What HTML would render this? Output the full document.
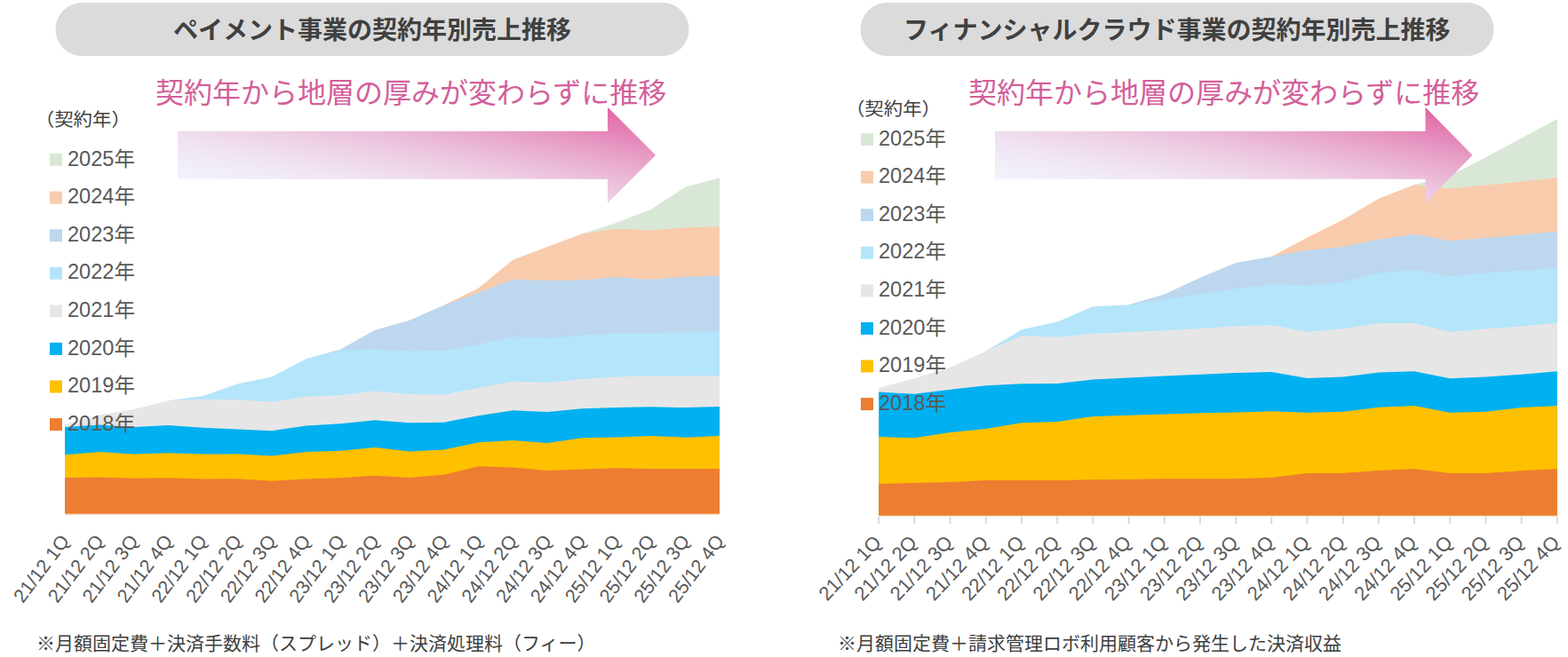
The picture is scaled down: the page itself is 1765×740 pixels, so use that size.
<!DOCTYPE html>
<html lang="ja"><head><meta charset="utf-8"><title>契約年別売上推移</title>
<style>html,body{margin:0;padding:0;background:#fff;font-family:"Liberation Sans","Noto Sans CJK JP",sans-serif}svg{display:block}svg text{font-family:"Liberation Sans","Noto Sans CJK JP",sans-serif}</style>
</head><body>
<svg role="img" aria-label="契約年別売上推移チャート" width="1765" height="740" viewBox="0 0 1765 740" shape-rendering="geometricPrecision">
<desc>ペイメント事業の契約年別売上推移 / フィナンシャルクラウド事業の契約年別売上推移 — 契約年から地層の厚みが変わらずに推移。凡例（契約年）2018年〜2025年、横軸 21/12 1Q 〜 25/12 4Q。</desc>
<defs><linearGradient id="gL" x1="0" y1="1" x2="1" y2="0"><stop offset="0.0" stop-color="#F2F6FD"/><stop offset="0.0833" stop-color="#F2F5FC"/><stop offset="0.1667" stop-color="#F1F1FA"/><stop offset="0.25" stop-color="#F1EAF6"/><stop offset="0.3333" stop-color="#F0E2F0"/><stop offset="0.4167" stop-color="#EED7EA"/><stop offset="0.5" stop-color="#EDCBE2"/><stop offset="0.5833" stop-color="#EBBCD9"/><stop offset="0.6667" stop-color="#E9ABCE"/><stop offset="0.75" stop-color="#E698C3"/><stop offset="0.8333" stop-color="#E483B6"/><stop offset="0.9167" stop-color="#E16DA7"/><stop offset="1.0" stop-color="#DE5498"/></linearGradient><linearGradient id="gR" x1="0" y1="1" x2="1" y2="0"><stop offset="0.0" stop-color="#F2F6FD"/><stop offset="0.0833" stop-color="#F2F5FC"/><stop offset="0.1667" stop-color="#F1F1FA"/><stop offset="0.25" stop-color="#F1EAF6"/><stop offset="0.3333" stop-color="#F0E2F0"/><stop offset="0.4167" stop-color="#EED7EA"/><stop offset="0.5" stop-color="#EDCBE2"/><stop offset="0.5833" stop-color="#EBBCD9"/><stop offset="0.6667" stop-color="#E9ABCE"/><stop offset="0.75" stop-color="#E698C3"/><stop offset="0.8333" stop-color="#E483B6"/><stop offset="0.9167" stop-color="#E16DA7"/><stop offset="1.0" stop-color="#DE5498"/></linearGradient></defs>
<rect width="1765" height="740" fill="#fff"/>
<g id="left">
<rect x="62.5" y="3" width="713" height="60" rx="30.0" fill="#DBDBDB"/>
<text x="195" y="43.5" font-size="28" font-weight="bold" fill="#404040">ペイメント事業の契約年別売上推移</text>
<path d="M654.9 578.7L654.9 263.5L693.6 250.9L732.4 236.0L771.2 210.8L810.0 200.3L810.0 578.7Z" fill="#D9E8D6"/>
<path d="M499.7 578.7L499.7 343.8L538.5 324.5L577.3 292.7L616.1 277.9L654.9 263.5L693.6 257.5L732.4 259.5L771.2 256.2L810.0 255.4L810.0 578.7Z" fill="#F8CBAD"/>
<path d="M344.5 578.7L344.5 404.2L383.3 393.6L422.1 371.8L460.9 360.8L499.7 343.8L538.5 329.5L577.3 314.7L616.1 316.1L654.9 315.4L693.6 312.2L732.4 314.7L771.2 312.0L810.0 310.2L810.0 578.7Z" fill="#BDD7EE"/>
<path d="M189.4 578.7L189.4 451.3L228.2 446.1L266.9 432.6L305.7 424.4L344.5 404.2L383.3 394.5L422.1 393.3L460.9 395.4L499.7 394.9L538.5 388.0L577.3 379.0L616.1 381.2L654.9 377.8L693.6 374.9L732.4 375.6L771.2 374.0L810.0 372.8L810.0 578.7Z" fill="#B4E5FA"/>
<path d="M73.0 578.7L73.0 478.0L111.8 467.6L150.6 461.1L189.4 451.3L228.2 449.8L266.9 450.1L305.7 452.8L344.5 446.7L383.3 444.9L422.1 440.6L460.9 444.1L499.7 444.4L538.5 437.1L577.3 429.6L616.1 431.0L654.9 426.9L693.6 424.4L732.4 423.3L771.2 423.3L810.0 423.0L810.0 578.7Z" fill="#E7E6E6"/>
<path d="M73.0 578.7L73.0 480.9L111.8 478.5L150.6 481.0L189.4 479.1L228.2 481.8L266.9 483.4L305.7 485.2L344.5 479.5L383.3 477.3L422.1 473.3L460.9 476.2L499.7 475.7L538.5 468.2L577.3 462.3L616.1 463.9L654.9 460.3L693.6 459.1L732.4 458.2L771.2 459.1L810.0 458.0L810.0 578.7Z" fill="#00B0F0"/>
<path d="M73.0 578.7L73.0 512.2L111.8 509.1L150.6 511.6L189.4 510.2L228.2 511.6L266.9 511.3L305.7 513.6L344.5 509.1L383.3 507.7L422.1 504.1L460.9 508.6L499.7 506.4L538.5 498.2L577.3 495.9L616.1 498.9L654.9 493.2L693.6 492.5L732.4 490.9L771.2 492.7L810.0 490.9L810.0 578.7Z" fill="#FFC000"/>
<path d="M73.0 578.7L73.0 538.1L111.8 537.4L150.6 538.8L189.4 538.3L228.2 539.6L266.9 539.2L305.7 541.7L344.5 539.4L383.3 538.3L422.1 535.7L460.9 537.9L499.7 534.7L538.5 525.2L577.3 526.6L616.1 530.0L654.9 528.4L693.6 527.2L732.4 527.9L771.2 527.9L810.0 527.9L810.0 578.7Z" fill="#ED7D31"/>
<rect x="73" y="578.7" width="737.0" height="1.6" fill="#F8DDCC"/>
<path d="M200 147.7H684V120.69999999999999L738 174.7L684 228.7V201.7H200Z" fill="url(#gL)"/>
<text x="175" y="116" font-size="32" fill="#D35F9B">契約年から地層の厚みが変わらずに推移</text>
<text transform="translate(39.80 142.20) scale(1.045 1)" font-size="20.5" fill="#404040">（契約年）</text>
<rect x="56" y="173.00" width="14" height="14" fill="#D9E8D6"/>
<text transform="translate(76.00 186.70) scale(1.025 1)" font-size="23" fill="#595959">2025年</text>
<rect x="56" y="215.58" width="14" height="14" fill="#F8CBAD"/>
<text transform="translate(76.00 229.28) scale(1.025 1)" font-size="23" fill="#595959">2024年</text>
<rect x="56" y="258.16" width="14" height="14" fill="#BDD7EE"/>
<text transform="translate(76.00 271.86) scale(1.025 1)" font-size="23" fill="#595959">2023年</text>
<rect x="56" y="300.74" width="14" height="14" fill="#B4E5FA"/>
<text transform="translate(76.00 314.44) scale(1.025 1)" font-size="23" fill="#595959">2022年</text>
<rect x="56" y="343.32" width="14" height="14" fill="#E7E6E6"/>
<text transform="translate(76.00 357.02) scale(1.025 1)" font-size="23" fill="#595959">2021年</text>
<rect x="56" y="385.90" width="14" height="14" fill="#00B0F0"/>
<text transform="translate(76.00 399.60) scale(1.025 1)" font-size="23" fill="#595959">2020年</text>
<rect x="56" y="428.48" width="14" height="14" fill="#FFC000"/>
<text transform="translate(76.00 442.18) scale(1.025 1)" font-size="23" fill="#595959">2019年</text>
<rect x="56" y="471.06" width="14" height="14" fill="#ED7D31"/>
<text transform="translate(76.00 484.76) scale(1.025 1)" font-size="23" fill="#595959">2018年</text>
<text transform="translate(79.00 609.50) rotate(-53)" text-anchor="end" font-size="21.5" fill="#595959">21/12 1Q</text>
<text transform="translate(117.79 609.50) rotate(-53)" text-anchor="end" font-size="21.5" fill="#595959">21/12 2Q</text>
<text transform="translate(156.58 609.50) rotate(-53)" text-anchor="end" font-size="21.5" fill="#595959">21/12 3Q</text>
<text transform="translate(195.37 609.50) rotate(-53)" text-anchor="end" font-size="21.5" fill="#595959">21/12 4Q</text>
<text transform="translate(234.16 609.50) rotate(-53)" text-anchor="end" font-size="21.5" fill="#595959">22/12 1Q</text>
<text transform="translate(272.95 609.50) rotate(-53)" text-anchor="end" font-size="21.5" fill="#595959">22/12 2Q</text>
<text transform="translate(311.74 609.50) rotate(-53)" text-anchor="end" font-size="21.5" fill="#595959">22/12 3Q</text>
<text transform="translate(350.53 609.50) rotate(-53)" text-anchor="end" font-size="21.5" fill="#595959">22/12 4Q</text>
<text transform="translate(389.32 609.50) rotate(-53)" text-anchor="end" font-size="21.5" fill="#595959">23/12 1Q</text>
<text transform="translate(428.11 609.50) rotate(-53)" text-anchor="end" font-size="21.5" fill="#595959">23/12 2Q</text>
<text transform="translate(466.90 609.50) rotate(-53)" text-anchor="end" font-size="21.5" fill="#595959">23/12 3Q</text>
<text transform="translate(505.69 609.50) rotate(-53)" text-anchor="end" font-size="21.5" fill="#595959">23/12 4Q</text>
<text transform="translate(544.48 609.50) rotate(-53)" text-anchor="end" font-size="21.5" fill="#595959">24/12 1Q</text>
<text transform="translate(583.27 609.50) rotate(-53)" text-anchor="end" font-size="21.5" fill="#595959">24/12 2Q</text>
<text transform="translate(622.06 609.50) rotate(-53)" text-anchor="end" font-size="21.5" fill="#595959">24/12 3Q</text>
<text transform="translate(660.85 609.50) rotate(-53)" text-anchor="end" font-size="21.5" fill="#595959">24/12 4Q</text>
<text transform="translate(699.64 609.50) rotate(-53)" text-anchor="end" font-size="21.5" fill="#595959">25/12 1Q</text>
<text transform="translate(738.43 609.50) rotate(-53)" text-anchor="end" font-size="21.5" fill="#595959">25/12 2Q</text>
<text transform="translate(777.22 609.50) rotate(-53)" text-anchor="end" font-size="21.5" fill="#595959">25/12 3Q</text>
<text transform="translate(816.01 609.50) rotate(-53)" text-anchor="end" font-size="21.5" fill="#595959">25/12 4Q</text>
<text x="41" y="732" font-size="21" fill="#3E3E3E">※月額固定費＋決済手数料（スプレッド）＋決済処理料（フィー）</text>
</g>
<g id="right">
<rect x="968.5" y="3" width="713" height="60" rx="30.0" fill="#DBDBDB"/>
<text x="1017" y="43.5" font-size="28" font-weight="bold" fill="#404040">フィナンシャルクラウド事業の契約年別売上推移</text>
<path d="M1592.0 580.8L1592.0 207.9L1632.2 197.6L1672.4 177.2L1712.6 155.6L1752.8 134.1L1752.8 580.8Z" fill="#D9E8D6"/>
<path d="M1431.3 580.8L1431.3 288.9L1471.5 267.6L1511.7 247.6L1551.9 223.8L1592.0 207.9L1632.2 212.4L1672.4 208.5L1712.6 204.5L1752.8 199.9L1752.8 580.8Z" fill="#F8CBAD"/>
<path d="M1270.5 580.8L1270.5 343.3L1310.7 331.5L1350.9 312.7L1391.1 296.1L1431.3 288.9L1471.5 281.7L1511.7 278.0L1551.9 269.5L1592.0 263.9L1632.2 271.3L1672.4 268.0L1712.6 264.6L1752.8 260.5L1752.8 580.8Z" fill="#BDD7EE"/>
<path d="M1109.8 580.8L1109.8 395.6L1150.0 371.3L1190.2 362.6L1230.3 345.2L1270.5 343.3L1310.7 337.2L1350.9 331.3L1391.1 325.2L1431.3 319.9L1471.5 321.8L1511.7 317.7L1551.9 307.5L1592.0 304.1L1632.2 311.3L1672.4 307.5L1712.6 304.7L1752.8 301.8L1752.8 580.8Z" fill="#B4E5FA"/>
<path d="M989.2 580.8L989.2 437.1L1029.4 426.2L1069.6 413.7L1109.8 395.6L1150.0 378.1L1190.2 379.7L1230.3 375.8L1270.5 374.0L1310.7 372.2L1350.9 369.9L1391.1 367.2L1431.3 366.3L1471.5 373.7L1511.7 370.3L1551.9 364.2L1592.0 364.2L1632.2 373.7L1672.4 370.6L1712.6 367.6L1752.8 363.8L1752.8 580.8Z" fill="#E7E6E6"/>
<path d="M989.2 580.8L989.2 441.5L1029.4 443.8L1069.6 438.7L1109.8 434.2L1150.0 432.3L1190.2 431.9L1230.3 427.4L1270.5 425.5L1310.7 423.5L1350.9 421.7L1391.1 420.1L1431.3 418.9L1471.5 426.1L1511.7 424.6L1551.9 419.4L1592.0 418.3L1632.2 426.2L1672.4 424.4L1712.6 421.7L1752.8 418.3L1752.8 580.8Z" fill="#00B0F0"/>
<path d="M989.2 580.8L989.2 492.1L1029.4 493.2L1069.6 487.1L1109.8 483.0L1150.0 476.2L1190.2 475.0L1230.3 468.9L1270.5 467.8L1310.7 466.4L1350.9 465.3L1391.1 464.4L1431.3 463.2L1471.5 464.8L1511.7 463.7L1551.9 458.7L1592.0 456.9L1632.2 464.8L1672.4 463.7L1712.6 459.1L1752.8 456.9L1752.8 580.8Z" fill="#FFC000"/>
<path d="M989.2 580.8L989.2 544.9L1029.4 544.0L1069.6 543.1L1109.8 541.1L1150.0 541.1L1190.2 541.1L1230.3 540.2L1270.5 540.0L1310.7 539.3L1350.9 539.3L1391.1 539.3L1431.3 537.9L1471.5 532.9L1511.7 532.9L1551.9 530.0L1592.0 527.9L1632.2 532.9L1672.4 532.9L1712.6 530.2L1752.8 527.9L1752.8 580.8Z" fill="#ED7D31"/>
<rect x="988.30" y="582" width="1.8" height="8" fill="#D3D7DC"/>
<rect x="1028.49" y="582" width="1.8" height="8" fill="#D3D7DC"/>
<rect x="1068.68" y="582" width="1.8" height="8" fill="#D3D7DC"/>
<rect x="1108.87" y="582" width="1.8" height="8" fill="#D3D7DC"/>
<rect x="1149.06" y="582" width="1.8" height="8" fill="#D3D7DC"/>
<rect x="1189.25" y="582" width="1.8" height="8" fill="#D3D7DC"/>
<rect x="1229.44" y="582" width="1.8" height="8" fill="#D3D7DC"/>
<rect x="1269.63" y="582" width="1.8" height="8" fill="#D3D7DC"/>
<rect x="1309.82" y="582" width="1.8" height="8" fill="#D3D7DC"/>
<rect x="1350.01" y="582" width="1.8" height="8" fill="#D3D7DC"/>
<rect x="1390.20" y="582" width="1.8" height="8" fill="#D3D7DC"/>
<rect x="1430.39" y="582" width="1.8" height="8" fill="#D3D7DC"/>
<rect x="1470.58" y="582" width="1.8" height="8" fill="#D3D7DC"/>
<rect x="1510.77" y="582" width="1.8" height="8" fill="#D3D7DC"/>
<rect x="1550.96" y="582" width="1.8" height="8" fill="#D3D7DC"/>
<rect x="1591.15" y="582" width="1.8" height="8" fill="#D3D7DC"/>
<rect x="1631.34" y="582" width="1.8" height="8" fill="#D3D7DC"/>
<rect x="1671.53" y="582" width="1.8" height="8" fill="#D3D7DC"/>
<rect x="1711.72" y="582" width="1.8" height="8" fill="#D3D7DC"/>
<rect x="1751.91" y="582" width="1.8" height="8" fill="#D3D7DC"/>
<rect x="989.2" y="580.8" width="763.6" height="1.0" fill="#F8DDCC"/>
<path d="M1120 147.7H1604.5V120.69999999999999L1657.5 174.7L1604.5 228.7V201.7H1120Z" fill="url(#gR)"/>
<text x="1090" y="116" font-size="32" fill="#D35F9B">契約年から地層の厚みが変わらずに推移</text>
<text transform="translate(951.90 129.90) scale(1.045 1)" font-size="20.5" fill="#404040">（契約年）</text>
<rect x="969" y="150.00" width="14" height="14" fill="#D9E8D6"/>
<text transform="translate(989.00 163.70) scale(1.025 1)" font-size="23" fill="#595959">2025年</text>
<rect x="969" y="192.58" width="14" height="14" fill="#F8CBAD"/>
<text transform="translate(989.00 206.28) scale(1.025 1)" font-size="23" fill="#595959">2024年</text>
<rect x="969" y="235.16" width="14" height="14" fill="#BDD7EE"/>
<text transform="translate(989.00 248.86) scale(1.025 1)" font-size="23" fill="#595959">2023年</text>
<rect x="969" y="277.74" width="14" height="14" fill="#B4E5FA"/>
<text transform="translate(989.00 291.44) scale(1.025 1)" font-size="23" fill="#595959">2022年</text>
<rect x="969" y="320.32" width="14" height="14" fill="#E7E6E6"/>
<text transform="translate(989.00 334.02) scale(1.025 1)" font-size="23" fill="#595959">2021年</text>
<rect x="969" y="362.90" width="14" height="14" fill="#00B0F0"/>
<text transform="translate(989.00 376.60) scale(1.025 1)" font-size="23" fill="#595959">2020年</text>
<rect x="969" y="405.48" width="14" height="14" fill="#FFC000"/>
<text transform="translate(989.00 419.18) scale(1.025 1)" font-size="23" fill="#595959">2019年</text>
<rect x="969" y="448.06" width="14" height="14" fill="#ED7D31"/>
<text transform="translate(989.00 461.76) scale(1.025 1)" font-size="23" fill="#595959">2018年</text>
<text transform="translate(993.20 612.00) rotate(-46.5)" text-anchor="end" font-size="22" fill="#595959">21/12 1Q</text>
<text transform="translate(1033.39 612.00) rotate(-46.5)" text-anchor="end" font-size="22" fill="#595959">21/12 2Q</text>
<text transform="translate(1073.58 612.00) rotate(-46.5)" text-anchor="end" font-size="22" fill="#595959">21/12 3Q</text>
<text transform="translate(1113.77 612.00) rotate(-46.5)" text-anchor="end" font-size="22" fill="#595959">21/12 4Q</text>
<text transform="translate(1153.96 612.00) rotate(-46.5)" text-anchor="end" font-size="22" fill="#595959">22/12 1Q</text>
<text transform="translate(1194.15 612.00) rotate(-46.5)" text-anchor="end" font-size="22" fill="#595959">22/12 2Q</text>
<text transform="translate(1234.34 612.00) rotate(-46.5)" text-anchor="end" font-size="22" fill="#595959">22/12 3Q</text>
<text transform="translate(1274.53 612.00) rotate(-46.5)" text-anchor="end" font-size="22" fill="#595959">22/12 4Q</text>
<text transform="translate(1314.72 612.00) rotate(-46.5)" text-anchor="end" font-size="22" fill="#595959">23/12 1Q</text>
<text transform="translate(1354.91 612.00) rotate(-46.5)" text-anchor="end" font-size="22" fill="#595959">23/12 2Q</text>
<text transform="translate(1395.10 612.00) rotate(-46.5)" text-anchor="end" font-size="22" fill="#595959">23/12 3Q</text>
<text transform="translate(1435.29 612.00) rotate(-46.5)" text-anchor="end" font-size="22" fill="#595959">23/12 4Q</text>
<text transform="translate(1475.48 612.00) rotate(-46.5)" text-anchor="end" font-size="22" fill="#595959">24/12 1Q</text>
<text transform="translate(1515.67 612.00) rotate(-46.5)" text-anchor="end" font-size="22" fill="#595959">24/12 2Q</text>
<text transform="translate(1555.86 612.00) rotate(-46.5)" text-anchor="end" font-size="22" fill="#595959">24/12 3Q</text>
<text transform="translate(1596.05 612.00) rotate(-46.5)" text-anchor="end" font-size="22" fill="#595959">24/12 4Q</text>
<text transform="translate(1636.24 612.00) rotate(-46.5)" text-anchor="end" font-size="22" fill="#595959">25/12 1Q</text>
<text transform="translate(1676.43 612.00) rotate(-46.5)" text-anchor="end" font-size="22" fill="#595959">25/12 2Q</text>
<text transform="translate(1716.62 612.00) rotate(-46.5)" text-anchor="end" font-size="22" fill="#595959">25/12 3Q</text>
<text transform="translate(1756.81 612.00) rotate(-46.5)" text-anchor="end" font-size="22" fill="#595959">25/12 4Q</text>
<text x="943" y="732" font-size="21" fill="#3E3E3E">※月額固定費＋請求管理ロボ利用顧客から発生した決済収益</text>
</g>
</svg>
</body></html>
